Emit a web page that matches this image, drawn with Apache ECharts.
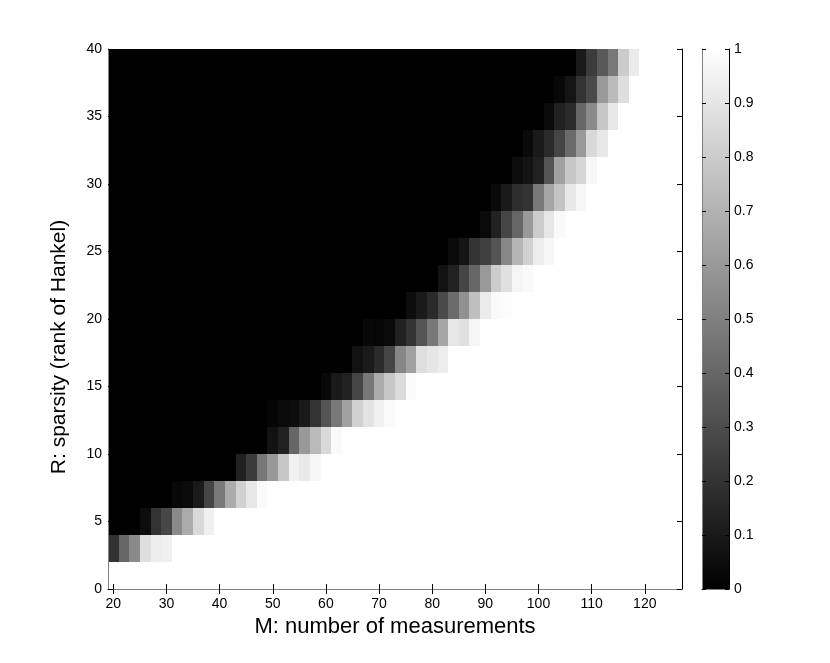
<!DOCTYPE html>
<html>
<head>
<meta charset="utf-8">
<title>Recovery phase transition</title>
<script src="https://cdn.jsdelivr.net/npm/echarts@6/dist/echarts.min.js"></script>
<style>
  html, body { margin: 0; padding: 0; background: #fff; }
  #chart { width: 830px; height: 663px; }
</style>
</head>
<body>
<div id="chart"></div>
<script>
  // M: number of measurements (column centres, each cell is 2 wide)
  const mValues = [20, 22, 24, 26, 28, 30, 32, 34, 36, 38, 40, 42, 44, 46, 48, 50, 52, 54,
    56, 58, 60, 62, 64, 66, 68, 70, 72, 74, 76, 78, 80, 82, 84, 86, 88, 90,
    92, 94, 96, 98, 100, 102, 104, 106, 108, 110, 112, 114, 116, 118, 120, 122, 124, 126]
  // R: lower edge of each row band (each band is 2 high)
  const rowBottoms = [2, 4, 6, 8, 10, 12, 14, 16, 18, 20, 22, 24, 26, 28, 30, 32, 34, 36, 38]
  // per row: first M that is not black, then the grey levels read off the picture;
  // cells left of it are 0 (black), cells after the list are 1 (white)
  const rowStarts = [20, 26, 32, 44, 50, 50, 60, 66, 68, 76, 82, 84, 90, 92, 96, 98, 102, 104, 108]
  const rowGrays = [
    [0.2, 0.4, 0.54, 0.87, 0.93, 0.94],
    [0.05, 0.2, 0.28, 0.54, 0.67, 0.85, 0.94],
    [0.03, 0.04, 0.1, 0.27, 0.47, 0.67, 0.82, 0.91, 0.98],
    [0.13, 0.23, 0.47, 0.6, 0.78, 0.94, 0.91, 0.96],
    [0.07, 0.13, 0.4, 0.6, 0.73, 0.85, 0.98],
    [0.02, 0.04, 0.05, 0.1, 0.2, 0.33, 0.47, 0.63, 0.82, 0.89, 0.94, 0.98],
    [0.03, 0.1, 0.13, 0.27, 0.47, 0.67, 0.78, 0.86, 0.98],
    [0.07, 0.1, 0.17, 0.27, 0.53, 0.63, 0.87, 0.9, 0.93],
    [0.03, 0.02, 0.04, 0.13, 0.2, 0.33, 0.47, 0.65, 0.9, 0.88, 0.96],
    [0.05, 0.1, 0.17, 0.29, 0.42, 0.57, 0.75, 0.92, 0.98, 0.99],
    [0.07, 0.13, 0.27, 0.4, 0.6, 0.8, 0.88, 0.96, 0.98],
    [0.04, 0.08, 0.2, 0.25, 0.33, 0.53, 0.71, 0.82, 0.93, 0.97],
    [0.04, 0.13, 0.27, 0.4, 0.6, 0.8, 0.9, 0.98],
    [0.04, 0.1, 0.18, 0.2, 0.47, 0.65, 0.77, 0.91, 0.97],
    [0.05, 0.08, 0.13, 0.33, 0.63, 0.78, 0.84, 0.97],
    [0.04, 0.1, 0.17, 0.27, 0.42, 0.6, 0.85, 0.91],
    [0.04, 0.13, 0.17, 0.4, 0.54, 0.78, 0.91],
    [0.03, 0.08, 0.2, 0.29, 0.6, 0.73, 0.87],
    [0.1, 0.23, 0.35, 0.47, 0.8, 0.92]
  ]
  const xTicks = [20, 30, 40, 50, 60, 70, 80, 90, 100, 110, 120]
  const yTicks = [0, 5, 10, 15, 20, 25, 30, 35, 40]
  const barTicks = [0, 0.1, 0.2, 0.3, 0.4, 0.5, 0.6, 0.7, 0.8, 0.9, 1]

  let cells = []
  rowBottoms.forEach((r, i) => {
    let first = mValues.indexOf(rowStarts[i])
    mValues.forEach((m, j) => {
      let k = j - first
      let v = k < 0 ? 0 : (k < rowGrays[i].length ? rowGrays[i][k] : 1)
      cells.push([m, r, v])
    })
  })

  const font = 'Liberation Sans'
  const boxGrey = '#808080'

  let myChart = echarts.init(document.getElementById('chart'))
  let option = {
    animation: false,
    backgroundColor: '#ffffff',
    textStyle: { fontFamily: font },
    grid: [
      { left: 108, right: 148, top: 49, bottom: 74 },
      { left: 702, right: 101, top: 49, bottom: 74 }
    ],
    visualMap: {
      show: false,
      type: 'continuous',
      seriesIndex: 0,
      dimension: 2,
      min: 0,
      max: 1,
      inRange: { color: ['#000000', '#ffffff'] }
    },
    xAxis: [
      {
        type: 'value',
        gridIndex: 0,
        min: 19,
        max: 127,
        z: 10,
        name: 'M: number of measurements',
        nameLocation: 'middle',
        nameGap: 20,
        nameTextStyle: { color: '#000', fontSize: 22, fontFamily: font },
        axisLine: { lineStyle: { color: '#000', width: 1 } },
        axisTick: { inside: true, length: 5, customValues: xTicks, lineStyle: { color: '#000' } },
        axisLabel: { customValues: xTicks, color: '#000', fontSize: 14, margin: 8, fontFamily: font },
        splitLine: { show: false }
      },
      {
        type: 'value',
        gridIndex: 0,
        position: 'top',
        min: 19,
        max: 127,
        z: 10,
        axisLine: { lineStyle: { color: boxGrey, width: 1 } },
        axisTick: { inside: true, length: 5, customValues: xTicks, lineStyle: { color: '#000' } },
        axisLabel: { show: false },
        splitLine: { show: false }
      },
      {
        type: 'category',
        gridIndex: 1,
        data: ['scale'],
        z: 10,
        axisLine: { lineStyle: { color: '#000', width: 1 } },
        axisTick: { show: false },
        axisLabel: { show: false }
      },
      {
        type: 'category',
        gridIndex: 1,
        position: 'top',
        data: ['scale'],
        z: 10,
        axisLine: { lineStyle: { color: boxGrey, width: 1 } },
        axisTick: { show: false },
        axisLabel: { show: false }
      }
    ],
    yAxis: [
      {
        type: 'value',
        gridIndex: 0,
        min: 0,
        max: 40,
        interval: 5,
        z: 10,
        name: 'R: sparsity (rank of Hankel)',
        nameLocation: 'middle',
        nameGap: 38,
        nameTextStyle: { color: '#000', fontSize: 21, fontFamily: font, padding: [0, 56, 0, 0] },
        axisLine: { show: true, lineStyle: { color: boxGrey, width: 1 } },
        axisTick: { show: true, inside: true, length: 5, lineStyle: { color: '#000' } },
        axisLabel: { color: '#000', fontSize: 14, margin: 6, fontFamily: font,
          customValues: yTicks },
        splitLine: { show: false }
      },
      {
        type: 'value',
        gridIndex: 0,
        position: 'right',
        min: 0,
        max: 40,
        interval: 5,
        z: 10,
        axisLine: { show: true, lineStyle: { color: '#000', width: 1 } },
        axisTick: { show: true, inside: true, length: 5, lineStyle: { color: '#000' } },
        axisLabel: { show: false },
        splitLine: { show: false }
      },
      {
        type: 'value',
        gridIndex: 1,
        position: 'right',
        min: 0,
        max: 1,
        interval: 0.1,
        z: 10,
        axisLine: { show: true, lineStyle: { color: '#000', width: 1 } },
        axisTick: { show: true, inside: true, length: 4, lineStyle: { color: '#000' } },
        axisLabel: { color: '#000', fontSize: 14, margin: 5, fontFamily: font,
          customValues: barTicks, formatter: v => String(+v.toFixed(1)) },
        splitLine: { show: false }
      },
      {
        type: 'value',
        gridIndex: 1,
        position: 'left',
        min: 0,
        max: 1,
        interval: 0.1,
        z: 10,
        axisLine: { show: true, lineStyle: { color: boxGrey, width: 1 } },
        axisTick: { show: true, inside: true, length: 4, lineStyle: { color: '#000' } },
        axisLabel: { show: false },
        splitLine: { show: false }
      }
    ],
    series: [
      {
        type: 'custom',
        xAxisIndex: 0,
        yAxisIndex: 0,
        data: cells,
        renderItem: function (params, api) {
          let m = api.value(0)
          let r = api.value(1)
          let p0 = api.coord([m - 1, r + 2])
          let p1 = api.coord([m + 1, r])
          // snap to whole pixels so neighbouring cells leave no seams
          let x0 = Math.round(p0[0])
          let y0 = Math.round(p0[1])
          let x1 = Math.round(p1[0])
          let y1 = Math.round(p1[1])
          return {
            type: 'rect',
            shape: { x: x0, y: y0, width: x1 - x0, height: y1 - y0 },
            style: { fill: api.visual('color'), stroke: null }
          }
        }
      },
      {
        type: 'bar',
        xAxisIndex: 2,
        yAxisIndex: 2,
        barWidth: '100%',
        data: [barTicks[barTicks.length - 1]],
        itemStyle: {
          color: {
            type: 'linear', x: 0, y: 0, x2: 0, y2: 1,
            colorStops: [{ offset: 0, color: '#ffffff' }, { offset: 1, color: '#000000' }]
          }
        }
      }
    ]
  }
  myChart.setOption(option)
</script>
</body>
</html>
